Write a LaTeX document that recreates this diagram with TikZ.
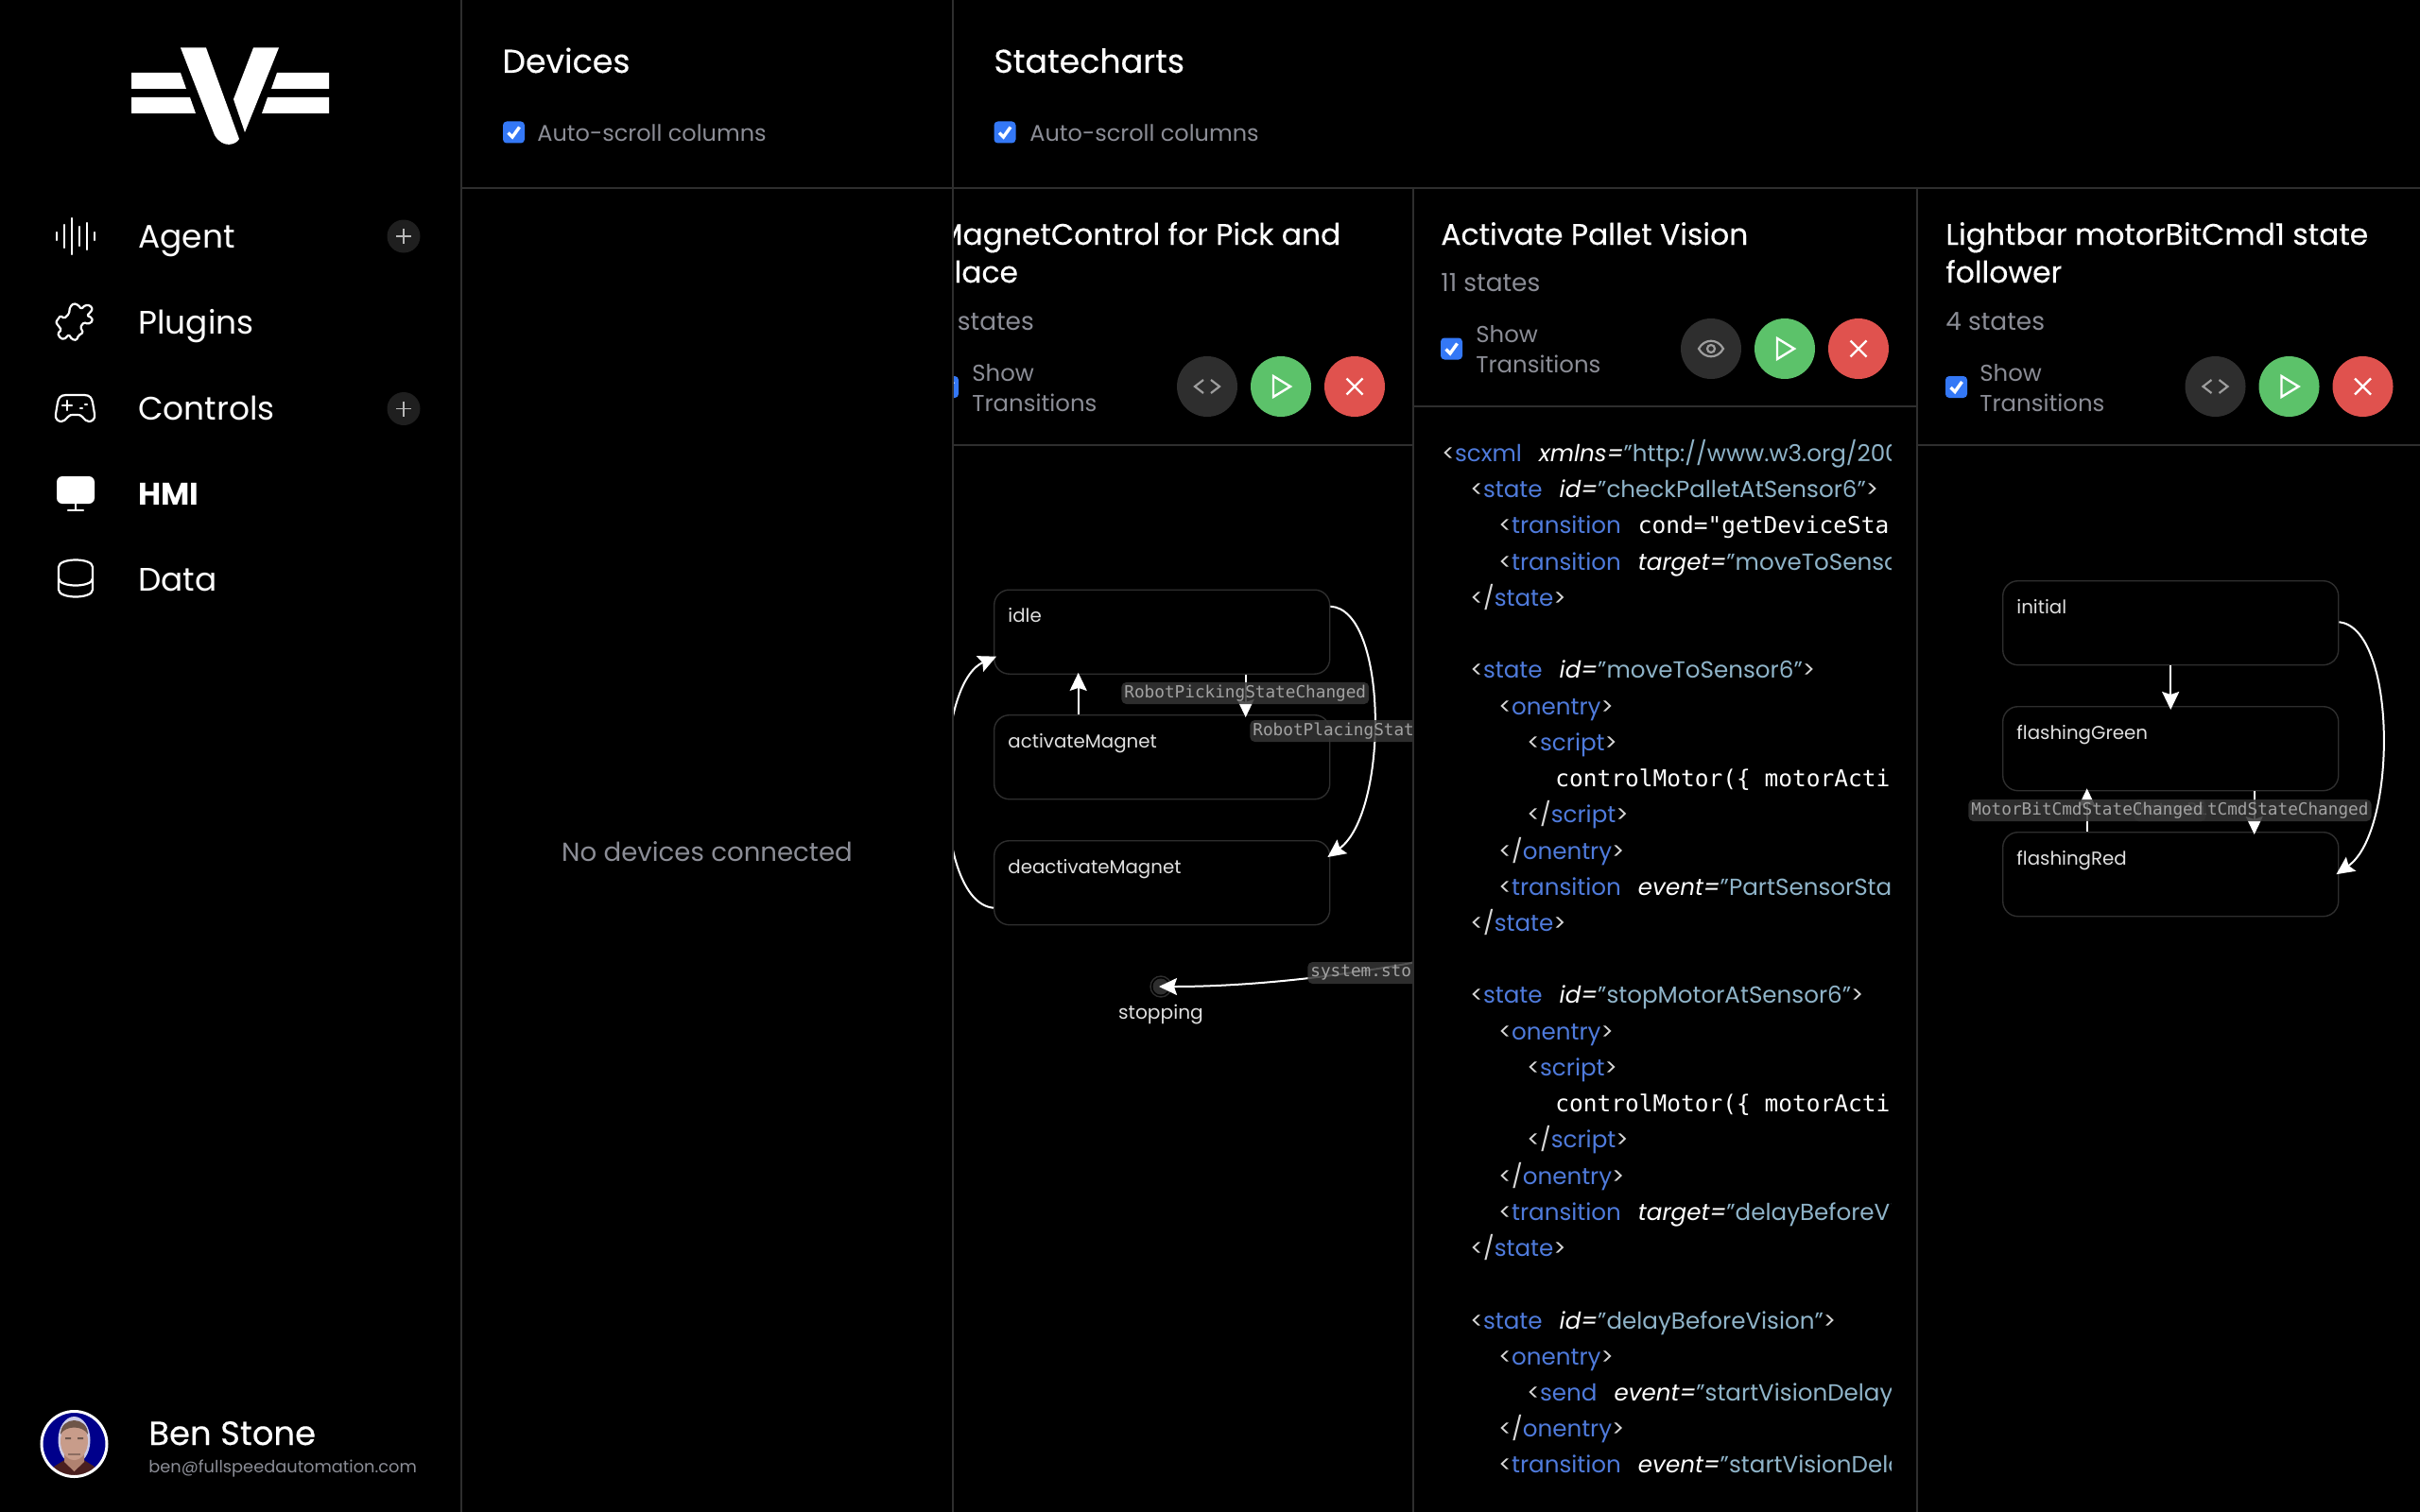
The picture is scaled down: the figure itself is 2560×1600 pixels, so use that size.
\documentclass[tikz,border=0pt]{standalone}
\usepackage{fontspec}
\usepackage{xcolor}
\setmainfont{Poppins}
\setmonofont{DejaVu Sans Mono}
\newfontfamily\titlefam[FakeBold=0.25]{Poppins}
\usetikzlibrary{calc}
\usetikzlibrary{arrows.meta}

\definecolor{panelline}{HTML}{2E2E2E}
\definecolor{mutedtext}{HTML}{8B8D96}
\definecolor{checkblue}{HTML}{3478F6}
\definecolor{btndark}{HTML}{2E2E2E}
\definecolor{btngreen}{HTML}{5CC26A}
\definecolor{btnred}{HTML}{E0524E}
\definecolor{tagblue}{HTML}{4F7BDC}
\definecolor{stringblue}{HTML}{8FB4C9}
\definecolor{bracketgray}{HTML}{D8D8D8}
\definecolor{labelfill}{HTML}{353535}
\definecolor{labeltext}{HTML}{A2A2A2}
\definecolor{avatarblue}{HTML}{00008B}
\definecolor{avatarskin}{HTML}{C89C8A}
\definecolor{avatarneck}{HTML}{B08270}
\definecolor{avatarhair}{HTML}{6E5548}
\definecolor{avatarshirt}{HTML}{4A1F1F}

\newcommand{\fsz}[1]{\fontsize{#1}{#1}\selectfont}
\newcommand{\xgt}{\textcolor{bracketgray}{>}}
\newcommand{\xo}[1]{\textcolor{bracketgray}{<}\textcolor{tagblue}{#1}}
\newcommand{\xc}[1]{\textcolor{bracketgray}{</}\textcolor{tagblue}{#1}\xgt}
\newcommand{\xa}[2]{\hspace{9pt}\textcolor{white}{\itshape #1=}\textcolor{stringblue}{”#2}}
\newcommand{\xm}[1]{\textcolor{white}{\ttfamily\fsz{12.25}#1}}

\tikzset{
    paneltitle/.style={anchor=base west, inner sep=0pt, text=white, font=\titlefam\fsz{15.7}},
    headtitle/.style={paneltitle, font=\titlefam\fsz{17.4}},
    muted/.style={anchor=base west, inner sep=0pt, text=mutedtext, font=\fsz{12.2}},
    navtext/.style={anchor=base west, inner sep=0pt, text=white, font=\fsz{17.2}},
    codeline/.style={anchor=base west, inner sep=0pt, font=\fsz{12.3}},
    statetext/.style={anchor=base west, inner sep=0pt, text=white!88!black, font=\fsz{9.9}},
    statebox/.style={draw=panelline, line width=0.7pt, rounded corners=8pt, minimum width=177.5pt, minimum height=44.5pt, inner sep=0pt, anchor=north west},
    edgelabel/.style={fill=labelfill, fill opacity=0.85, text opacity=1, text=labeltext, rounded corners=2.5pt, anchor=west, inner xsep=1.5pt, inner ysep=0pt, minimum height=11.5pt, font=\ttfamily\fsz{8.85}},
    arrowline/.style={draw=white, line width=1pt, -{Stealth[length=9.5pt,width=9pt,inset=1.5pt]}},
    chkbox/.style={fill=checkblue, rounded corners=2pt, minimum size=11.5pt, inner sep=0pt},
    chkmark/.style={draw=white, line width=1.7pt},
    btn/.style={circle, minimum size=32pt, inner sep=0pt},
    plusbtn/.style={circle, fill=white!12!black, minimum size=17.5pt, inner sep=0pt},
    iconline/.style={draw=white, line width=1.1pt, line cap=round, line join=round},
    btnicon/.style={draw=white, line width=1.2pt},
    graicon/.style={draw=white!62!black, line width=1.1pt},
}

\begin{document}
\begin{tikzpicture}[x=0.5pt, y=-0.5pt]
        \useasboundingbox (0,0) rectangle (2560,1600);
        \fill[black] (0,0) rectangle (2560,1600);

        %LOGO
        \fill[white] (139,77) -- (191,77) -- (197,94) -- (139,94) -- cycle;
        \fill[white] (139,103) -- (201,103) -- (207,120) -- (139,120) -- cycle;
        \fill[white] (293,77) -- (348,77) -- (348,94) -- (287,94) -- cycle;
        \fill[white] (283,103) -- (348,103) -- (348,120) -- (277,120) -- cycle;
        \fill[white] (191,50.5) -- (218,50.5) -- (253,147) .. controls (250,153) and (236,158) .. (227,143) -- cycle;
        \fill[white] (268,50.5) -- (295,50.5) -- (259,140) -- (247,105) -- cycle;

        %NAVIGATION
        \node[navtext] (agent) at (146,262) {Agent};
        \node[navtext] (plugins) at (146,353) {Plugins};
        \node[navtext] (controls) at (146,444) {Controls};
        \node[navtext, font=\bfseries\fsz{16.5}] (hmi) at (146,534) {HMI};
        \node[navtext] (data) at (146,625) {Data};

        \foreach \ix/\iy in {60/4, 68/12, 76/19, 84/10, 92/14, 100/4} {
            \draw[iconline] (\ix,250-\iy) -- (\ix,250+\iy);
        }
        \draw[iconline, rounded corners=0.7pt] (74,325) -- (78,321) -- (83,323) -- (86,327) -- (90,323) -- (95,323) -- (98,327) -- (95,331) -- (92,334) -- (97,336) -- (98,340) -- (93,343) -- (89,341) -- (85,346) -- (88,352) -- (83,355) -- (81,360) -- (76,359) -- (73,354) -- (68,359) -- (64,358) -- (61,353) -- (65,349) -- (62,345) -- (59,341) -- (64,334) -- (68,337) -- (73,332) -- cycle;
        \draw[iconline] (70,418) -- (89,418) .. controls (95,418) and (97,421) .. (98,426) -- (100,438) .. controls (101,444) and (97,446) .. (94,446) .. controls (91,446) and (90,444) .. (87,441) .. controls (85,439) and (84,439) .. (82,439) -- (77,439) .. controls (75,439) and (74,439) .. (72,441) .. controls (69,444) and (68,446) .. (65,446) .. controls (62,446) and (58,444) .. (59,438) -- (61,426) .. controls (62,421) and (64,418) .. (70,418) -- cycle;
        \draw[iconline] (66,429) -- (76,429) (71,424) -- (71,434) (85,432) -- (87,432) (90,428) -- (92,428);
        \fill[white, rounded corners=3pt] (60,504) rectangle (100,533);
        \draw[iconline] (80,533) -- (80,539) (72,540) -- (88,540);
        \draw[iconline] (62,600) .. controls (62,590) and (98,590) .. (98,600) -- (98,624) .. controls (98,634) and (62,634) .. (62,624) -- cycle;
        \draw[iconline] (62,612) .. controls (62,622) and (98,622) .. (98,612);

        \node[plusbtn] (plusagent) at (427,250) {};
        \node[plusbtn] (pluscontrols) at (427,432.5) {};
        \draw[draw=white!72!black, line width=0.9pt] (419,250) -- (435,250) (427,242) -- (427,258);
        \draw[draw=white!72!black, line width=0.9pt] (419,432.5) -- (435,432.5) (427,424.5) -- (427,440.5);

        %USER
        \begin{scope}
            \clip (78.5,1528) circle (34);
            \fill[avatarblue] (78.5,1528) circle (34);
            \fill[white!80!avatarblue] (78.5,1524) ellipse (17 and 25);
            \fill[avatarshirt] (52,1566) -- (57,1552) -- (70,1544) -- (87,1544) -- (100,1552) -- (105,1566) -- cycle;
            \fill[avatarneck] (68,1536) -- (89,1536) -- (89,1547) -- (78.5,1557) -- (68,1547) -- cycle;
            \fill[avatarskin] (78.5,1525) ellipse (14.5 and 20);
            \fill[avatarhair] (64,1518) .. controls (64,1498) and (93,1498) .. (93,1518) .. controls (88,1508) and (69,1508) .. (64,1518) -- cycle;
            \fill[black!45!avatarskin] (69,1521) rectangle (75,1523) (82,1521) rectangle (88,1523);
            \fill[black!30!avatarskin] (72,1538) rectangle (85,1539.5);
        \end{scope}
        \draw[white, line width=1.5pt] (78.5,1528) circle (34.5);
        \node[navtext, font=\titlefam\fsz{17.7}] (username) at (157,1529) {Ben Stone};
        \node[muted, font=\fsz{8.9}] (usermail) at (157,1558) {ben@fullspeedautomation.com};

        %HEADERS
        \node[headtitle] (devices) at (531,77) {Devices};
        \node[headtitle] (statecharts) at (1051,77) {Statecharts};
        \node[chkbox] (autodevcheck) at (543.5,140) {};
        \node[chkbox] (autochartcheck) at (1063,140) {};
        \node[muted, font=\fsz{12}] (autodevices) at (568,149) {Auto-scroll columns};
        \node[muted, font=\fsz{12}] (autocharts) at (1089,149) {Auto-scroll columns};
        \node[muted, anchor=center, font=\fsz{13.8}] (nodevices) at (748,901) {No devices connected};

        %MAGNET COLUMN
        \begin{scope}
            \clip (1008,199) rectangle (1495,1600);
            \node[paneltitle] (magnettitle) at (991,259) {MagnetControl for Pick and};
            \node[paneltitle] (magnettitleb) at (991,299) {Place};
            \node[muted, font=\fsz{13.2}] (magnetcount) at (991,349) {7 states};
            \node[chkbox] (magnetcheck) at (1002.5,409.5) {};
            \draw[chkmark] ($(magnetcheck)+(-6,0.5)$) -- ($(magnetcheck)+(-1.5,5)$) -- ($(magnetcheck)+(6,-5.5)$);
            \node[muted] (magnetshow) at (1028,403) {Show};
            \node[muted] (magnettrans) at (1028,435) {Transitions};

            \node[statebox] (idle) at (1051,623.5) {};
            \node[statebox] (activate) at (1051,756) {};
            \node[statebox] (deactivate) at (1051,889) {};
            \node[statetext] (idletext) at (1066,658) {idle};
            \node[statetext] (activatetext) at (1066,791) {activateMagnet};
            \node[statetext] (deactivatetext) at (1066,924) {deactivateMagnet};
            \node[circle, draw=panelline, fill=black, line width=0.7pt, minimum size=11pt, inner sep=0pt] (stopping) at (1228,1044) {};
            \fill[panelline] (stopping) circle (8.5);
            \node[statetext, anchor=base, font=\fsz{10.1}] (stoppingtext) at (1228,1078) {stopping};
            \coordinate (stopfar) at (1530,1012);

            \draw[arrowline] ([xshift=-44.25pt]activate.north) -- ([xshift=-44.25pt, yshift=1pt]idle.south);
            \draw[arrowline] ([xshift=44.25pt]idle.south) -- ([xshift=44.25pt, yshift=-1.5pt]activate.north);
            \draw[arrowline] ([yshift=13.5pt]idle.east) .. controls (1469,645) and (1469,860) .. ([yshift=-9pt, xshift=-1.5pt]deactivate.north east);
            \draw[arrowline] ([yshift=-13.25pt]deactivate.west) .. controls (986,955) and (986,725) .. ([yshift=-13pt, xshift=1.5pt]idle.west);
            \draw[arrowline, shorten >=-1pt] (stopfar) .. controls (1420,1034) and (1320,1044) .. (stopping.center);

            \node[edgelabel] (picking) at (1186,733.5) {RobotPickingStateChanged};
            \node[edgelabel] (placing) at (1322,773.5) {RobotPlacingStateChanged};
            \node[edgelabel] (sysstop) at (1383,1029.5) {system.stop};
        \end{scope}

        %VISION COLUMN
        \node[paneltitle] (visiontitle) at (1524,259) {Activate Pallet Vision};
        \node[muted, font=\fsz{13.2}] (visioncount) at (1524,308) {11 states};
        \node[chkbox] (visioncheck) at (1535.5,369) {};
        \node[muted] (visionshow) at (1561,362) {Show};
        \node[muted] (visiontrans) at (1561,394) {Transitions};

        \begin{scope}
            \clip (1496,431) rectangle (2000,1600);
            \foreach \cdx/\cdi/\cdt in {
                0/0/{\xo{scxml}\xa{xmlns}{http://www.w3.org/200}},
                1/1/{\xo{state}\xa{id}{checkPalletAtSensor6”}\xgt},
                2/2/{\xo{transition}\hspace{9pt}\xm{cond="getDeviceSta}},
                2/3/{\xo{transition}\xa{target}{moveToSenso}},
                1/4/{\xc{state}},
                1/6/{\xo{state}\xa{id}{moveToSensor6”}\xgt},
                2/7/{\xo{onentry}\xgt},
                3/8/{\xo{script}\xgt},
                4/9/{\xm{controlMotor(\{ motorActi}},
                3/10/{\xc{script}},
                2/11/{\xc{onentry}},
                2/12/{\xo{transition}\xa{event}{PartSensorSta}},
                1/13/{\xc{state}},
                1/15/{\xo{state}\xa{id}{stopMotorAtSensor6”}\xgt},
                2/16/{\xo{onentry}\xgt},
                3/17/{\xo{script}\xgt},
                4/18/{\xm{controlMotor(\{ motorActi}},
                3/19/{\xc{script}},
                2/20/{\xc{onentry}},
                2/21/{\xo{transition}\xa{target}{delayBeforeVi}},
                1/22/{\xc{state}},
                1/24/{\xo{state}\xa{id}{delayBeforeVision”}\xgt},
                2/25/{\xo{onentry}\xgt},
                3/26/{\xo{send}\xa{event}{startVisionDelay”}},
                2/27/{\xc{onentry}},
                2/28/{\xo{transition}\xa{event}{startVisionDela}}
            } {
                \node[codeline] (code\cdi) at ({1525+30*\cdx},{488.5+38.23*\cdi}) {\cdt};
            }
        \end{scope}

        %LIGHTBAR COLUMN
        \node[paneltitle] (lighttitle) at (2058,259) {Lightbar motorBitCmd1 state};
        \node[paneltitle] (lighttitleb) at (2058,299) {follower};
        \node[muted, font=\fsz{13.2}] (lightcount) at (2058,349) {4 states};
        \node[chkbox] (lightcheck) at (2069.5,409.5) {};
        \node[muted] (lightshow) at (2094,403) {Show};
        \node[muted] (lighttrans) at (2094,435) {Transitions};

        \node[statebox] (initial) at (2118,614) {};
        \node[statebox] (green) at (2118,747) {};
        \node[statebox] (red) at (2118,880) {};
        \node[statetext] (initialtext) at (2133,649) {initial};
        \node[statetext] (greentext) at (2133,782) {flashingGreen};
        \node[statetext] (redtext) at (2133,915) {flashingRed};

        \draw[arrowline] (initial.south) -- ([yshift=-2pt]green.north);
        \draw[arrowline] ([xshift=-44.25pt]red.north) -- ([xshift=-44.25pt, yshift=1.5pt]green.south);
        \draw[arrowline] ([xshift=44.25pt]green.south) -- ([xshift=44.25pt, yshift=-1.5pt]red.north);
        \draw[arrowline] ([yshift=0.5pt]initial.east) .. controls (2536,665) and (2536,880) .. ([xshift=-1.5pt]red.east);

        \node[edgelabel] (redtogreen) at (2257,857.5) {MotorBitCmdStateChanged};
        \node[edgelabel] (greentored) at (2082,857.5) {MotorBitCmdStateChanged};

        %CHECK MARKS
        \foreach \mk in {visioncheck, lightcheck, autodevcheck, autochartcheck} {
            \draw[chkmark] ($(\mk)+(-6,0.5)$) -- ($(\mk)+(-1.5,5)$) -- ($(\mk)+(6,-5.5)$);
        }

        %BUTTONS
        \foreach \bx/\by in {1277/409, 1810/369, 2343.5/409} {
            \node[btn, fill=btndark] (dark\bx) at (\bx,\by) {};
            \node[btn, fill=btngreen] (play\bx) at (\bx+78,\by) {};
            \node[btn, fill=btnred] (stop\bx) at (\bx+156,\by) {};
            \draw[btnicon, line join=miter] (\bx+70,\by-11) -- (\bx+88,\by) -- (\bx+70,\by+11) -- cycle;
            \draw[btnicon] (\bx+147.5,\by-8.5) -- (\bx+164.5,\by+8.5) (\bx+147.5,\by+8.5) -- (\bx+164.5,\by-8.5);
        }
        \foreach \cx/\cy in {1277/409, 2343.5/409} {
            \draw[graicon] (\cx-4,\cy-7) -- (\cx-13,\cy) -- (\cx-4,\cy+7);
            \draw[graicon] (\cx+4,\cy-7) -- (\cx+13,\cy) -- (\cx+4,\cy+7);
        }
        \draw[graicon] (1797,369) .. controls (1803,358) and (1817,358) .. (1823,369) .. controls (1817,380) and (1803,380) .. (1797,369) -- cycle;
        \draw[graicon] (1810,369) circle (4);

        %PANEL LINES
        \draw[panelline, line width=1pt] (488,0) -- (488,1600);
        \draw[panelline, line width=1pt] (1008,0) -- (1008,1600);
        \draw[panelline, line width=1pt] (488,199) -- (2560,199);
        \draw[panelline, line width=1pt] (1495,199) -- (1495,1600);
        \draw[panelline, line width=1pt] (2028,199) -- (2028,1600);
        \draw[panelline, line width=1pt] (1008,470.5) -- (1495,470.5);
        \draw[panelline, line width=1pt] (1495,430) -- (2028,430);
        \draw[panelline, line width=1pt] (2028,470.5) -- (2560,470.5);
    \end{tikzpicture}
\end{document}
